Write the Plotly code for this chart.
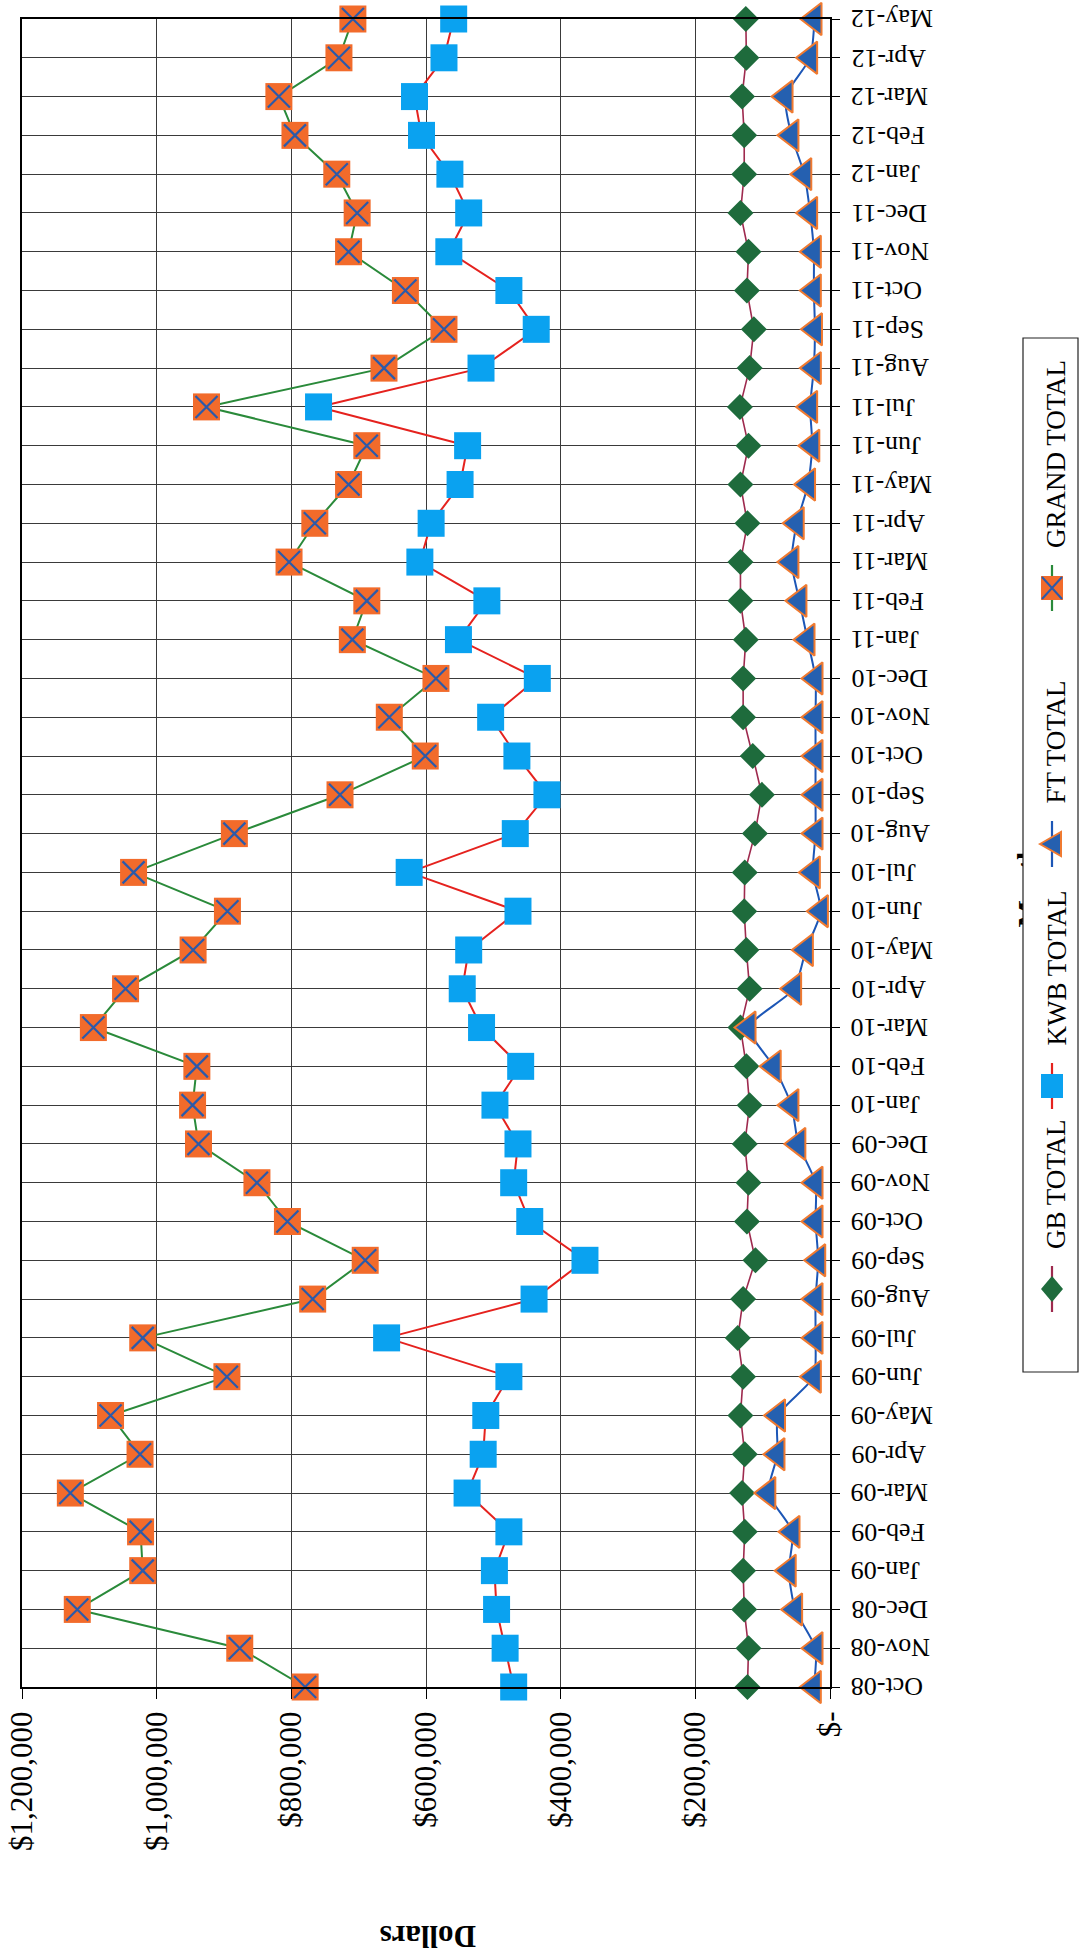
import plotly.graph_objects as go

# Monthly totals, Oct-08 .. May-12
months = ['Oct-08', 'Nov-08', 'Dec-08', 'Jan-09', 'Feb-09', 'Mar-09', 'Apr-09', 'May-09',
          'Jun-09', 'Jul-09', 'Aug-09', 'Sep-09', 'Oct-09', 'Nov-09', 'Dec-09', 'Jan-10',
          'Feb-10', 'Mar-10', 'Apr-10', 'May-10', 'Jun-10', 'Jul-10', 'Aug-10', 'Sep-10',
          'Oct-10', 'Nov-10', 'Dec-10', 'Jan-11', 'Feb-11', 'Mar-11', 'Apr-11', 'May-11',
          'Jun-11', 'Jul-11', 'Aug-11', 'Sep-11', 'Oct-11', 'Nov-11', 'Dec-11', 'Jan-12',
          'Feb-12', 'Mar-12', 'Apr-12', 'May-12']

gb_total = [122600, 121000, 127400, 129000, 126600, 130600, 126600, 133000,
            129000, 137000, 129000, 110700, 123400, 121000, 126600, 119400,
            124200, 133000, 119400, 124200, 127400, 126600, 111500, 101100,
            114700, 129000, 129000, 125000, 133000, 133000, 122600, 133000,
            121000, 133800, 119400, 113100, 123400, 121000, 133000, 127400,
            127400, 130600, 124200, 125000]

kwb_total = [469800, 482500, 495200, 498400, 476900, 539000, 515100, 511200,
             476900, 658500, 439500, 363900, 445900, 469800, 463400, 497600,
             459400, 517500, 546200, 536600, 463400, 625000, 467400, 420400,
             465000, 504000, 434700, 551800, 509600, 609100, 592400, 549400,
             538200, 759600, 518300, 436300, 476900, 566100, 536600, 564500,
             606700, 617100, 573300, 558900]

ft_total = [24000, 21500, 51800, 61300, 55700, 91600, 78000, 77200,
            24000, 21500, 21500, 17500, 21500, 21500, 47000, 57300,
            83600, 121000, 53300, 35800, 13500, 25500, 21500, 21500,
            21500, 21500, 21500, 33400, 45400, 57300, 49400, 32600,
            26300, 29500, 24000, 22300, 24000, 24000, 29500, 38200,
            57300, 66000, 29500, 23000]

grand_total = [779500, 876600, 1117900, 1020700, 1023900, 1128200, 1024700, 1068500,
               895700, 1020700, 768300, 690300, 805800, 851100, 937900, 946700,
               940300, 1094000, 1046200, 945900, 894900, 1034300, 884600, 727700,
               601100, 654500, 585200, 709400, 687900, 803400, 765100, 715000,
               687900, 926000, 662400, 573300, 630600, 715000, 702250, 732500,
               794600, 818500, 729300, 708600]

dollar_ticks = [0, 200000, 400000, 600000, 800000, 1000000, 1200000]
dollar_labels = ['$-', '$200,000', '$400,000', '$600,000', '$800,000', '$1,000,000', '$1,200,000']

series_names = ['GB TOTAL', 'KWB TOTAL', 'FT TOTAL', 'GRAND TOTAL']

# colours
GREEN_DIAMOND = '#1E6B3C'
GB_LINE = '#9E2A4E'
KWB_FILL = '#0AA2F0'
KWB_LINE = '#E5221E'
FT_FILL = '#2560B0'
FT_EDGE = '#F07A30'
FT_LINE = '#1C56B6'
GRAND_FILL = '#F26B2B'
GRAND_X = '#2B5AAA'
GRAND_LINE = '#2A8A3A'

SERIF = 'Liberation Serif'

W, H = 1084, 1957
ML, MR, MT, MB = 22, 254, 19, 270
PW = W - ML - MR
PH = H - MT - MB


def px_x(px):
    return (px - ML) / PW


def px_y(py):
    return (H - MB - py) / PH


fig = go.Figure()

fig.add_trace(go.Scatter(
    x=gb_total, y=months, mode='lines+markers', name=series_names[0],
    line=dict(color=GB_LINE, width=1.6),
    marker=dict(symbol='diamond', size=20, color=GREEN_DIAMOND, line=dict(width=0)),
    cliponaxis=False, showlegend=False))

fig.add_trace(go.Scatter(
    x=kwb_total, y=months, mode='lines+markers', name=series_names[1],
    line=dict(color=KWB_LINE, width=2),
    marker=dict(symbol='square', size=27, color=KWB_FILL, line=dict(width=0)),
    cliponaxis=False, showlegend=False))

fig.add_trace(go.Scatter(
    x=ft_total, y=months, mode='lines+markers', name=series_names[2],
    line=dict(color=FT_LINE, width=2, shape='spline', smoothing=0.6),
    marker=dict(symbol='triangle-left', size=28, color=FT_FILL,
                line=dict(color=FT_EDGE, width=2)),
    cliponaxis=False, showlegend=False))

fig.add_trace(go.Scatter(
    x=grand_total, y=months, mode='lines+markers', name=series_names[3],
    line=dict(color=GRAND_LINE, width=2),
    marker=dict(symbol='square', size=27, color=GRAND_FILL, line=dict(width=0)),
    cliponaxis=False, showlegend=False))

fig.add_trace(go.Scatter(
    x=grand_total, y=months, mode='markers', name=series_names[3],
    marker=dict(symbol='x-thin', size=22, color=GRAND_X,
                line=dict(color=GRAND_X, width=2.2)),
    cliponaxis=False, showlegend=False, hoverinfo='skip'))

# carrier for the "Month" axis caption
fig.add_trace(go.Scatter(x=[None], y=[None], yaxis='y3', showlegend=False, hoverinfo='skip'))

# ---- legend (drawn by hand, vertical) ----
LEG_X0, LEG_X1, LEG_Y0, LEG_Y1 = 1023, 1078, 338, 1372
CX = 1052
shapes = [dict(type='rect', xref='paper', yref='paper', layer='above',
               x0=px_x(LEG_X0), x1=px_x(LEG_X1), y0=px_y(LEG_Y1), y1=px_y(LEG_Y0),
               line=dict(color='#222222', width=1.2), fillcolor='white')]


def seg(cy, color):
    return dict(type='line', xref='paper', yref='paper', layer='above',
                x0=px_x(CX), x1=px_x(CX), y0=px_y(cy - 23), y1=px_y(cy + 23),
                line=dict(color=color, width=2.2))


def poly(points, fill, edge=None, width=0):
    path = 'M ' + ' L '.join(f'{px_x(a)},{px_y(b)}' for a, b in points) + ' Z'
    return dict(type='path', xref='paper', yref='paper', layer='above', path=path,
                fillcolor=fill, line=dict(color=edge or fill, width=width))


legend_items = [
    (1289, 'GB TOTAL'),
    (1086, 'KWB TOTAL'),
    (844, 'FT TOTAL'),
    (588, 'GRAND TOTAL'),
]

# GB
cy = legend_items[0][0]
shapes.append(seg(cy, GB_LINE))
shapes.append(poly([(CX, cy - 13), (CX + 11, cy), (CX, cy + 13), (CX - 11, cy)], GREEN_DIAMOND))
# KWB
cy = legend_items[1][0]
shapes.append(seg(cy, KWB_LINE))
shapes.append(poly([(CX - 11, cy - 12), (CX + 11, cy - 12), (CX + 11, cy + 12), (CX - 11, cy + 12)], KWB_FILL))
# FT
cy = legend_items[2][0]
shapes.append(seg(cy, FT_LINE))
shapes.append(poly([(CX - 12, cy), (CX + 9, cy - 12), (CX + 9, cy + 12)], FT_FILL, FT_EDGE, 2))
# GRAND
cy = legend_items[3][0]
shapes.append(seg(cy, GRAND_LINE))
shapes.append(poly([(CX - 11, cy - 12), (CX + 11, cy - 12), (CX + 11, cy + 12), (CX - 11, cy + 12)], GRAND_FILL))
shapes.append(dict(type='path', xref='paper', yref='paper', layer='above',
                   path=(f'M {px_x(CX - 10)},{px_y(cy - 11)} L {px_x(CX + 10)},{px_y(cy + 11)} '
                         f'M {px_x(CX - 10)},{px_y(cy + 11)} L {px_x(CX + 10)},{px_y(cy - 11)}'),
                   line=dict(color=GRAND_X, width=2)))

annotations = []
for cy, label in legend_items:
    annotations.append(dict(
        x=px_x(1056), y=px_y(cy - 38), xref='paper', yref='paper',
        xanchor='center', yanchor='bottom', textangle=-90, showarrow=False,
        text=label, font=dict(family=SERIF, size=27, color='black')))

# month labels, upside down, placed beside the right-hand axis
for m in months:
    annotations.append(dict(
        x=px_x(849), y=m, xref='paper', yref='y',
        xanchor='left', yanchor='middle', textangle=180, showarrow=False,
        text=m, font=dict(family=SERIF, size=26, color='black')))

annotations.append(dict(
    x=px_x(428), y=px_y(1937), xref='paper', yref='paper',
    xanchor='center', yanchor='middle', textangle=180, showarrow=False,
    text='<b>Dollars</b>', font=dict(family=SERIF, size=31, color='black')))

fig.update_layout(
    width=W, height=H,
    margin=dict(l=ML, r=MR, t=MT, b=MB, pad=0),
    paper_bgcolor='white', plot_bgcolor='white',
    font=dict(family=SERIF, color='black'),
    showlegend=False,
    shapes=shapes,
    annotations=annotations,
    xaxis=dict(
        range=[1200000, 0], tickmode='array', tickvals=dollar_ticks, ticktext=dollar_labels,
        tickangle=-90, tickfont=dict(family=SERIF, size=31, color='black'),
        ticks='outside', ticklen=10, tickwidth=1, tickcolor='black',
        showgrid=True, gridcolor='#3a3a3a', gridwidth=1,
        showline=True, linecolor='black', linewidth=2, mirror=True,
        zeroline=False, automargin=False, fixedrange=True),
    yaxis=dict(
        type='category', categoryorder='array', categoryarray=months,
        range=[0, len(months) - 1], side='right', showticklabels=False,
        ticks='outside', ticklen=8, tickwidth=1, tickcolor='black',
        showgrid=True, gridcolor='#3a3a3a', gridwidth=1,
        showline=True, linecolor='black', linewidth=2, mirror=True,
        zeroline=False, automargin=False, fixedrange=True),
    # axis caption, mostly tucked behind the legend box
    yaxis3=dict(
        overlaying='y', anchor='free', position=1, side='right',
        range=[0, 1], tickmode='array', tickvals=[px_y(890)], ticktext=['<b>Month</b>'],
        tickangle=-90, tickfont=dict(family=SERIF, size=29, color='black'),
        ticks='outside', ticklen=172, tickcolor='rgba(0,0,0,0)',
        showgrid=False, zeroline=False, showline=False, automargin=False, fixedrange=True),
)

fig.write_html('out.html')
